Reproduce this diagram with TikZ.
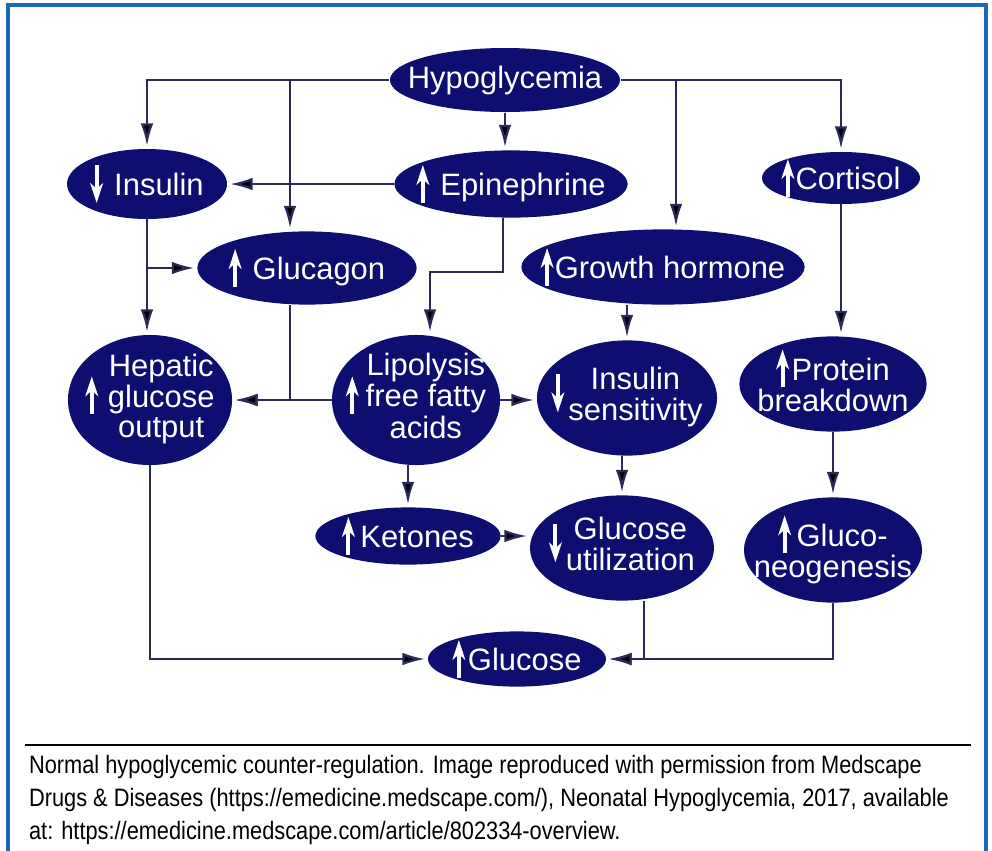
\documentclass[tikz,border=0pt]{standalone}
\usepackage{fontspec}
\setmainfont{Liberation Sans}
\newfontfamily\capfont[FakeStretch=0.865]{Liberation Sans}
\usetikzlibrary{arrows.meta,shapes.geometric,positioning}

\definecolor{navy}{RGB}{14,14,112}
\definecolor{wire}{RGB}{42,42,92}
\definecolor{framec}{RGB}{27,106,181}

% white arrows inside the ellipses
\newcommand{\arUp}{\tikz[baseline=-8pt]\draw[white,line width=2.8pt,shorten >=0pt,
    -{Stealth[length=14pt,width=9pt,inset=4pt]}] (0,-13pt) -- (0,14pt);}
\newcommand{\arDn}{\tikz[baseline=-8pt]\draw[white,line width=2.8pt,shorten >=0pt,
    -{Stealth[length=14pt,width=9pt,inset=4pt]}] (0,14pt) -- (0,-13pt);}
% text of zero size, so the ellipse keeps its own size
\newcommand{\ntxt}[1]{\makebox[0pt]{\raisebox{\dimexpr(\depth-\height)/2\relax}[0pt][0pt]{#1}}}
\newcommand{\lines}[1]{\begin{tabular}{@{}c@{}}#1\end{tabular}}

\tikzset{
  hormone/.style={ellipse,fill=navy,text=white,inner sep=0pt,
                  font=\fontsize{22}{21}\selectfont},
  caption/.style={anchor=base west,inner sep=0pt,text=black,
                  font=\capfont\fontsize{17.9}{23.5}\selectfont}
}

\begin{document}
\begin{tikzpicture}[->,>={Latex[length=16pt,width=9pt]},shorten >=2pt,
                    line width=1.6pt,draw=wire,x=0.025cm,y=-0.025cm]

  \useasboundingbox (0,0) rectangle (992,850);
  \draw[-,framec,line width=2.2pt] (8,5) rectangle (986,880);

  \node[hormone,minimum width=5.75cm,minimum height=1.6cm]  (hypo)     at (505,80)  {\ntxt{Hypoglycemia}};
  \node[hormone,minimum width=4cm,minimum height=1.75cm]    (insulin)  at (147,184) {\ntxt{\arDn\hspace{8pt}Insulin}};
  \node[hormone,minimum width=5.83cm,minimum height=1.68cm] (epi)      at (511,184) {\ntxt{\arUp\hspace{8pt}Epinephrine}};
  \node[hormone,minimum width=3.95cm,minimum height=1.3cm]  (cortisol) at (841,178) {\ntxt{\arUp\hspace{1pt}Cortisol}};
  \node[hormone,minimum width=5.48cm,minimum height=1.83cm] (glucagon) at (307,268) {\ntxt{\arUp\hspace{8pt}Glucagon}};
  \node[hormone,minimum width=7.08cm,minimum height=1.88cm] (gh)       at (663,267) {\ntxt{\arUp\hspace{1pt}Growth hormone}};
  \node[hormone,minimum width=4.1cm,minimum height=3.25cm]  (hepatic)  at (150,400) {\ntxt{\arUp\hspace{7pt}\lines{Hepatic\\glucose\\output}}};
  \node[hormone,minimum width=4.2cm,minimum height=3.25cm]  (lipo)     at (416,400) {\ntxt{\arUp\hspace{5pt}\lines{Lipolysis\\free fatty\\acids}}};
  \node[hormone,minimum width=4.5cm,minimum height=2.88cm]  (insens)   at (627,398) {\ntxt{\arDn\hspace{3pt}\lines{Insulin\\sensitivity}}};
  \node[hormone,minimum width=4.68cm,minimum height=2.38cm] (protein)  at (833,384) {\ntxt{\lines{\arUp\hspace{2pt}Protein\\breakdown}}};
  \node[hormone,minimum width=4.63cm,minimum height=1.43cm] (ketones)  at (408,536) {\ntxt{\arUp\hspace{4pt}Ketones}};
  \node[hormone,minimum width=4.6cm,minimum height=2.63cm]  (gutil)    at (622,548) {\ntxt{\arDn\hspace{3pt}\lines{Glucose\\utilization}}};
  \node[hormone,minimum width=4.45cm,minimum height=2.63cm] (gneo)     at (833,550) {\ntxt{\lines{\arUp\hspace{4pt}Gluco-\\neogenesis}}};
  \node[hormone,minimum width=4.45cm,minimum height=1.38cm] (glucose)  at (517,659) {\ntxt{\arUp\hspace{2pt}Glucose}};

  \coordinate (tapL) at (290,80);
  \coordinate (tapR) at (676,80);
  \coordinate (bend) at (430,272);

  \draw (hypo) -| (insulin);
  \draw (hypo) -| (cortisol);
  \draw (tapL) -- (tapL |- glucagon.north);
  \draw (tapR) -- (tapR |- gh.north);
  \draw (hypo.south) -- (hypo.south |- epi.north);
  \draw ([xshift=-0.2cm]epi.south) |- (bend) -- (bend |- lipo.north);
  \draw (insulin.south) -- (insulin.south |- hepatic.north);
  \draw (insulin.south |- glucagon.west) -- (glucagon.west);
  \draw ([xshift=-0.425cm]glucagon.south) |- (hepatic.east);
  \draw (insens.north |- gh.south) -- (insens.north);
  \draw (cortisol) -- (cortisol |- protein.north);
  \draw (ketones.north |- lipo.south) -- (ketones.north);
  \draw (gutil.north |- insens.south) -- (gutil.north);
  \draw (lipo.east) -- (lipo.east -| insens.west);
  \draw (ketones.east) -- (ketones.east -| gutil.west);
  \draw (hepatic) |- (glucose);
  \draw ([xshift=0.55cm]gutil.south) |- (glucose.east);
  \draw (gneo) |- (glucose);

  \path (epi)     edge (insulin)
        (lipo)    edge (hepatic)
        (protein) edge (gneo);

  % caption under the rule
  \draw[-,black,line width=1.3pt] (25,745) -- (974,745);
  \node[caption] (cap1) at (28,773) {Normal hypoglycemic counter-regulation. Image reproduced with permission from Medscape};
  \node[caption] (cap2) at (28,806) {Drugs \& Diseases (https://emedicine.medscape.com/), Neonatal Hypoglycemia, 2017, available};
  \node[caption] (cap3) at (28,839) {at: https://emedicine.medscape.com/article/802334-overview.};

\end{tikzpicture}
\end{document}
